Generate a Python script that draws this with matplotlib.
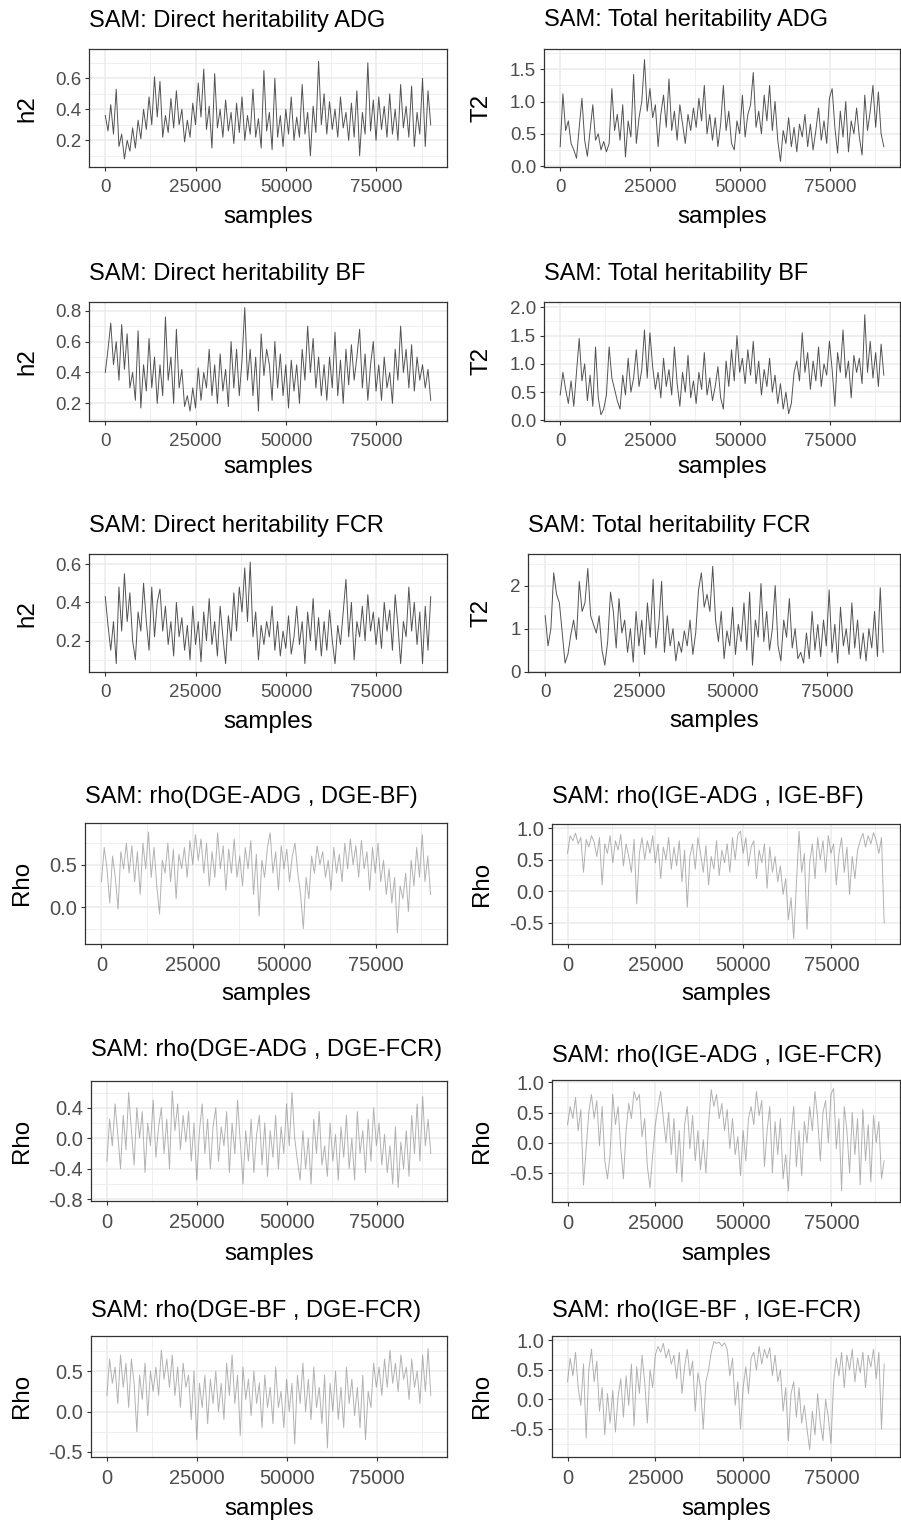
import numpy as np
import matplotlib.pyplot as plt

plt.rcParams['font.family'] = ['Liberation Sans', 'DejaVu Sans']

n_samples = 90000

titles = [
    "SAM: Direct heritability ADG", "SAM: Total heritability ADG",
    "SAM: Direct heritability BF", "SAM: Total heritability BF",
    "SAM: Direct heritability FCR", "SAM: Total heritability FCR",
    "SAM: rho(DGE-ADG , DGE-BF)", "SAM: rho(IGE-ADG , IGE-BF)",
    "SAM: rho(DGE-ADG , DGE-FCR)", "SAM: rho(IGE-ADG , IGE-FCR)",
    "SAM: rho(DGE-BF , DGE-FCR)", "SAM: rho(IGE-BF , IGE-FCR)",
]
ylabels = ["h2", "T2", "h2", "T2", "h2", "T2", "Rho", "Rho", "Rho", "Rho", "Rho", "Rho"]

# trace values (evenly spaced over the samples)
h2_adg = [0.36, 0.26, 0.43, 0.24, 0.53, 0.16, 0.24, 0.08, 0.20, 0.13,
          0.28, 0.15, 0.33, 0.21, 0.40, 0.27, 0.48, 0.30, 0.61, 0.35,
          0.58, 0.22, 0.36, 0.25, 0.47, 0.28, 0.52, 0.30, 0.40, 0.19,
          0.33, 0.22, 0.44, 0.30, 0.57, 0.35, 0.66, 0.27, 0.42, 0.15,
          0.63, 0.28, 0.40, 0.22, 0.46, 0.26, 0.38, 0.18, 0.44, 0.25,
          0.48, 0.20, 0.36, 0.24, 0.53, 0.22, 0.34, 0.15, 0.65, 0.26,
          0.38, 0.14, 0.60, 0.22, 0.36, 0.16, 0.40, 0.24, 0.48, 0.20,
          0.35, 0.22, 0.56, 0.24, 0.38, 0.10, 0.42, 0.25, 0.71, 0.30,
          0.50, 0.24, 0.45, 0.27, 0.40, 0.22, 0.48, 0.28, 0.38, 0.20,
          0.44, 0.22, 0.52, 0.10, 0.38, 0.24, 0.70, 0.26, 0.46, 0.20,
          0.48, 0.27, 0.42, 0.22, 0.50, 0.24, 0.40, 0.20, 0.56, 0.28,
          0.42, 0.22, 0.55, 0.16, 0.38, 0.24, 0.60, 0.16, 0.52, 0.30]
t2_adg = [0.30, 1.12, 0.55, 0.70, 0.35, 0.25, 0.12, 0.60, 1.05, 0.40,
          0.15, 0.55, 0.95, 0.40, 0.50, 0.25, 0.38, 0.22, 0.35, 1.20,
          0.55, 0.80, 0.40, 0.95, 0.14, 0.70, 0.45, 1.42, 0.35, 0.75,
          1.00, 1.65, 0.85, 1.20, 0.75, 0.95, 0.30, 0.80, 1.10, 0.60,
          1.35, 0.55, 0.85, 0.40, 0.95, 0.65, 0.35, 0.80, 0.55, 0.90,
          0.60, 1.05, 0.70, 1.25, 0.50, 0.80, 0.40, 0.75, 0.30, 0.65,
          1.25, 0.55, 0.85, 0.35, 0.25, 0.70, 0.50, 1.10, 0.45, 0.80,
          0.95, 1.45, 0.60, 0.85, 0.50, 1.10, 0.70, 1.25, 0.55, 1.00,
          0.40, 0.07, 0.55, 0.35, 0.75, 0.30, 0.60, 0.22, 0.65, 0.45,
          0.80, 0.30, 0.65, 0.25, 0.55, 0.90, 0.40, 0.70, 0.35, 1.05,
          1.20, 0.60, 0.20, 0.85, 0.45, 1.00, 0.22, 0.70, 0.50, 0.90,
          0.45, 0.17, 1.10, 0.55, 0.85, 1.25, 0.60, 1.15, 0.50, 0.30]
h2_bf = [0.40, 0.55, 0.72, 0.45, 0.60, 0.35, 0.71, 0.42, 0.65, 0.30,
         0.40, 0.22, 0.67, 0.17, 0.45, 0.28, 0.62, 0.30, 0.50, 0.20,
         0.45, 0.25, 0.76, 0.35, 0.50, 0.20, 0.68, 0.30, 0.42, 0.18,
         0.25, 0.15, 0.30, 0.17, 0.43, 0.22, 0.40, 0.30, 0.55, 0.25,
         0.45, 0.20, 0.52, 0.28, 0.42, 0.18, 0.60, 0.30, 0.55, 0.25,
         0.48, 0.82, 0.35, 0.55, 0.25, 0.50, 0.15, 0.65, 0.38, 0.55,
         0.45, 0.22, 0.60, 0.30, 0.52, 0.25, 0.45, 0.17, 0.48, 0.28,
         0.45, 0.20, 0.55, 0.35, 0.70, 0.40, 0.62, 0.30, 0.50, 0.25,
         0.45, 0.22, 0.50, 0.30, 0.66, 0.25, 0.48, 0.20, 0.55, 0.32,
         0.58, 0.35, 0.50, 0.68, 0.30, 0.52, 0.22, 0.45, 0.60, 0.28,
         0.45, 0.22, 0.50, 0.30, 0.40, 0.20, 0.55, 0.35, 0.70, 0.40,
         0.55, 0.30, 0.58, 0.28, 0.50, 0.35, 0.45, 0.30, 0.42, 0.22]
t2_bf = [0.45, 0.85, 0.55, 0.30, 0.70, 0.25, 0.85, 1.45, 0.70, 1.00,
         0.35, 0.80, 0.25, 1.30, 0.40, 0.10, 0.20, 0.45, 1.30, 0.75,
         0.55, 0.35, 0.20, 0.80, 0.45, 1.10, 0.50, 0.75, 1.25, 0.60,
         0.90, 1.60, 0.75, 1.55, 0.95, 0.55, 0.85, 0.40, 1.10, 0.60,
         0.90, 0.45, 1.30, 0.65, 0.25, 0.85, 0.50, 1.15, 0.40, 0.70,
         0.30, 0.85, 0.55, 1.20, 0.45, 0.75, 0.35, 0.60, 0.95, 0.40,
         0.20, 1.05, 0.60, 1.25, 0.70, 1.50, 0.85, 1.10, 0.65, 1.25,
         0.80, 1.40, 0.65, 1.05, 0.45, 0.90, 0.60, 1.10, 0.50, 0.80,
         0.30, 0.65, 0.20, 0.50, 0.12, 0.30, 0.85, 1.05, 0.70, 1.55,
         0.85, 1.20, 0.55, 1.05, 0.70, 1.30, 0.60, 1.00, 0.80, 1.40,
         0.90, 0.25, 1.20, 0.85, 1.60, 0.75, 1.05, 0.40, 1.15, 0.85,
         1.10, 0.65, 1.87, 0.85, 1.40, 0.75, 1.20, 0.60, 1.35, 0.80]
h2_fcr = [0.43, 0.28, 0.15, 0.30, 0.08, 0.48, 0.25, 0.55, 0.30, 0.45,
          0.20, 0.10, 0.35, 0.25, 0.50, 0.30, 0.15, 0.48, 0.22, 0.40,
          0.47, 0.25, 0.38, 0.18, 0.30, 0.12, 0.40, 0.22, 0.32, 0.15,
          0.28, 0.10, 0.38, 0.18, 0.30, 0.09, 0.35, 0.20, 0.42, 0.18,
          0.30, 0.12, 0.38, 0.22, 0.08, 0.33, 0.20, 0.45, 0.25, 0.48,
          0.35, 0.58, 0.30, 0.61, 0.22, 0.35, 0.10, 0.28, 0.18, 0.30,
          0.22, 0.38, 0.15, 0.30, 0.12, 0.25, 0.16, 0.33, 0.13, 0.22,
          0.38, 0.18, 0.30, 0.08, 0.35, 0.20, 0.42, 0.15, 0.32, 0.12,
          0.30, 0.15, 0.36, 0.20, 0.08, 0.28, 0.18, 0.35, 0.52, 0.22,
          0.40, 0.10, 0.30, 0.22, 0.38, 0.20, 0.44, 0.25, 0.35, 0.18,
          0.32, 0.16, 0.40, 0.25, 0.36, 0.15, 0.44, 0.28, 0.08, 0.30,
          0.22, 0.48, 0.25, 0.40, 0.18, 0.35, 0.08, 0.38, 0.15, 0.43]
t2_fcr = [1.30, 0.60, 1.00, 2.30, 1.80, 1.60, 0.90, 0.20, 0.40, 0.85,
          1.20, 0.75, 2.10, 1.40, 1.60, 2.40, 1.30, 1.10, 0.90, 1.30,
          0.50, 0.15, 0.70, 1.85, 1.40, 0.55, 1.70, 0.90, 1.20, 0.45,
          1.00, 0.22, 1.40, 0.60, 1.20, 0.40, 1.60, 0.80, 2.15, 0.55,
          1.10, 2.10, 0.45, 1.30, 0.60, 1.00, 0.25, 0.70, 0.45, 0.95,
          0.60, 1.20, 0.40, 0.90, 1.90, 2.30, 1.50, 1.80, 1.40, 2.45,
          1.20, 0.70, 1.40, 0.30, 0.95, 0.60, 1.50, 0.40, 1.10, 0.70,
          1.60, 0.50, 1.85, 0.15, 1.20, 0.80, 2.05, 0.70, 1.40, 0.50,
          1.00, 2.00, 0.60, 0.25, 1.20, 0.80, 1.70, 0.55, 1.00, 0.30,
          0.45, 0.20, 0.90, 0.30, 1.40, 0.50, 1.10, 0.35, 1.20, 0.60,
          1.90, 0.45, 1.10, 0.20, 1.50, 0.60, 1.00, 0.40, 1.60, 0.55,
          1.20, 0.30, 0.90, 0.25, 1.00, 0.55, 1.40, 0.35, 1.95, 0.45]
rho_dadg_dbf = [0.30, 0.70, 0.45, 0.05, 0.60, 0.35, -0.02, 0.65, 0.45, 0.75,
                0.40, 0.72, 0.30, 0.65, 0.15, 0.75, 0.45, 0.88, 0.35, 0.70,
                0.25, -0.08, 0.55, 0.40, 0.75, 0.30, 0.68, 0.10, 0.62, 0.45,
                0.70, 0.35, 0.78, 0.50, 0.85, 0.55, 0.80, 0.40, 0.75, 0.25,
                0.65, 0.35, 0.87, 0.45, 0.72, 0.20, 0.68, 0.40, 0.80, 0.35,
                0.60, 0.25, 0.70, 0.45, 0.78, 0.15, 0.62, -0.10, 0.55, 0.35,
                0.70, 0.87, 0.40, 0.65, 0.20, 0.72, 0.45, 0.68, 0.30, 0.60,
                0.75, 0.40, 0.15, -0.25, 0.35, 0.10, 0.60, 0.40, 0.72, 0.50,
                0.65, 0.35, 0.55, 0.20, 0.70, 0.40, 0.62, 0.30, 0.75, 0.45,
                0.80, 0.50, 0.72, 0.35, 0.78, 0.45, 0.65, 0.20, 0.70, 0.40,
                0.75, 0.30, 0.55, 0.15, 0.45, 0.05, 0.35, -0.30, 0.25, 0.10,
                0.40, -0.05, 0.55, 0.25, 0.70, 0.35, 0.85, 0.30, 0.60, 0.15]
rho_iadg_ibf = [0.60, 0.88, 0.80, 0.92, 0.75, 0.85, 0.30, 0.82, 0.70, 0.88,
                0.78, 0.55, 0.85, 0.10, 0.75, 0.60, 0.88, 0.45, 0.80, 0.65,
                0.90, 0.40, 0.75, 0.55, 0.30, 0.82, -0.20, 0.60, 0.85, 0.50,
                0.80, 0.60, 0.88, 0.45, 0.75, 0.20, 0.70, 0.50, 0.85, 0.35,
                0.70, 0.40, 0.80, 0.15, 0.65, -0.25, 0.55, 0.75, 0.35, 0.85,
                0.60, 0.30, 0.72, 0.10, 0.55, 0.35, 0.80, 0.25, 0.65, 0.45,
                0.75, 0.30, 0.85, 0.50, 0.90, 0.95, 0.60, 0.85, 0.40, 0.70,
                0.80, 0.20, 0.65, 0.45, 0.75, 0.05, 0.70, 0.30, 0.55, 0.15,
                0.40, -0.05, 0.20, -0.45, -0.10, -0.75, 0.10, 0.95, 0.30, 0.60,
                -0.60, 0.45, 0.75, 0.20, 0.85, 0.50, 0.80, 0.30, 0.88, 0.60,
                0.75, 0.10, 0.60, 0.85, 0.30, 0.70, -0.05, 0.55, 0.20, 0.65,
                0.80, 0.92, 0.70, 0.88, 0.75, 0.93, 0.80, 0.60, 0.85, -0.50]
rho_dadg_dfcr = [-0.30, 0.25, -0.10, 0.45, 0.05, -0.40, 0.30, -0.15, 0.60, 0.10,
                 -0.35, 0.40, 0.00, 0.35, -0.45, 0.20, -0.10, 0.50, -0.25, 0.15,
                 0.40, -0.20, 0.25, -0.40, 0.62, 0.10, 0.45, -0.15, 0.30, -0.05,
                 0.35, -0.30, 0.20, -0.55, 0.10, 0.45, -0.20, 0.25, -0.40, 0.15,
                 0.40, -0.30, 0.15, -0.10, 0.35, -0.45, 0.20, -0.20, 0.50, -0.05,
                 -0.60, 0.10, -0.30, 0.25, -0.45, 0.05, 0.30, -0.35, 0.20, -0.50,
                 0.10, -0.25, 0.30, -0.40, 0.15, -0.20, 0.45, -0.10, 0.60, 0.00,
                 -0.30, -0.55, 0.10, -0.40, 0.00, -0.60, 0.25, -0.20, 0.35, -0.35,
                 -0.10, -0.50, 0.20, -0.30, 0.05, -0.55, 0.15, -0.25, 0.30, -0.40,
                 0.00, -0.55, 0.35, -0.20, 0.10, -0.45, 0.25, -0.30, 0.40, -0.10,
                 0.20, -0.35, 0.05, -0.45, -0.10, -0.60, 0.15, -0.65, -0.05, -0.40,
                 0.10, -0.50, 0.30, -0.20, 0.45, -0.30, 0.55, -0.10, 0.25, -0.20]
rho_iadg_ifcr = [0.30, 0.60, 0.40, 0.75, 0.20, 0.55, -0.70, -0.10, 0.50, 0.80,
                 0.40, 0.70, -0.05, 0.60, -0.30, -0.60, -0.20, 0.80, 0.30, 0.60,
                 -0.10, -0.60, 0.20, 0.65, 0.40, 0.85, 0.70, 0.80, 0.10, 0.40,
                 -0.40, -0.75, -0.20, 0.30, 0.60, 0.85, 0.40, 0.00, 0.50, -0.20,
                 0.40, -0.50, 0.20, -0.65, 0.30, 0.60, -0.10, 0.45, -0.30, 0.20,
                 -0.45, 0.05, -0.50, 0.30, 0.88, 0.60, 0.80, 0.40, 0.65, 0.20,
                 0.55, -0.10, 0.40, -0.20, 0.10, -0.55, 0.20, -0.30, 0.40, 0.60,
                 0.30, 0.85, 0.45, 0.70, -0.40, 0.20, 0.60, -0.50, 0.35, -0.20,
                 0.40, -0.60, -0.20, -0.80, 0.10, 0.60, -0.40, 0.20, -0.55, 0.35,
                 0.00, 0.60, 0.20, 0.85, 0.40, -0.30, 0.50, 0.70, 0.00, 0.80,
                 0.90, -0.10, 0.40, -0.80, 0.60, 0.20, -0.50, 0.50, -0.20, 0.40,
                 -0.70, 0.55, -0.30, 0.30, -0.65, 0.45, 0.00, 0.35, -0.60, -0.30]
rho_dbf_dfcr = [0.20, 0.65, 0.35, 0.55, 0.10, 0.70, 0.30, 0.60, 0.05, 0.65,
                0.35, -0.25, 0.45, 0.15, 0.60, -0.05, 0.50, 0.25, 0.55, 0.20,
                0.76, 0.40, 0.65, 0.30, 0.70, 0.20, 0.55, 0.05, 0.60, 0.30,
                0.45, -0.10, 0.50, -0.35, 0.35, 0.05, 0.45, -0.15, 0.40, 0.10,
                0.50, 0.00, 0.35, -0.10, 0.60, 0.20, 0.70, 0.10, 0.45, -0.30,
                0.55, 0.15, 0.40, -0.05, 0.50, 0.10, 0.35, -0.20, 0.45, 0.05,
                0.30, -0.15, 0.55, 0.05, 0.25, -0.20, 0.40, 0.00, 0.35, -0.40,
                0.45, 0.10, 0.60, 0.00, 0.40, -0.10, 0.55, 0.05, 0.30, -0.15,
                0.45, -0.45, 0.35, 0.00, 0.50, -0.10, 0.30, -0.20, 0.55, 0.10,
                0.40, -0.05, 0.30, -0.20, 0.45, -0.35, 0.25, 0.05, 0.60, 0.30,
                0.55, 0.20, 0.65, 0.30, 0.76, 0.35, 0.60, 0.25, 0.70, 0.40,
                0.55, 0.15, 0.65, 0.30, 0.50, 0.10, 0.70, 0.25, 0.78, 0.20]
rho_ibf_ifcr = [0.30, 0.70, 0.40, 0.80, 0.20, -0.10, 0.60, -0.65, 0.50, 0.85,
                0.30, 0.65, -0.20, 0.20, -0.60, 0.10, -0.40, 0.15, -0.55, 0.05,
                0.35, -0.30, 0.40, -0.10, 0.60, -0.45, 0.55, 0.10, 0.75, 0.30,
                -0.40, 0.50, 0.20, 0.75, 0.90, 0.80, 0.95, 0.70, 0.85, 0.60,
                0.75, 0.35, 0.80, 0.10, 0.55, 0.85, 0.40, 0.65, -0.20, 0.45,
                0.20, -0.50, 0.30, 0.50, 0.80, 0.98, 0.95, 0.97, 0.90, 0.96,
                0.85, 0.40, 0.70, -0.10, 0.30, -0.50, 0.20, 0.55, 0.10, 0.70,
                0.80, 0.50, 0.90, 0.60, 0.85, 0.70, 0.88, 0.40, 0.75, 0.30,
                0.50, -0.20, 0.20, -0.70, 0.10, 0.30, -0.30, 0.20, -0.40, -0.10,
                -0.50, -0.85, -0.20, -0.60, 0.10, -0.40, -0.70, 0.00, -0.30, -0.75,
                0.30, 0.70, 0.40, 0.80, 0.20, 0.75, 0.50, 0.85, 0.30, 0.70,
                0.45, 0.80, 0.20, 0.75, 0.55, 0.85, 0.35, 0.80, -0.50, 0.60]

traces = [h2_adg, t2_adg, h2_bf, t2_bf, h2_fcr, t2_fcr,
          rho_dadg_dbf, rho_iadg_ibf, rho_dadg_dfcr, rho_iadg_ifcr,
          rho_dbf_dfcr, rho_ibf_ifcr]

x_ticks = [0, 25000, 50000, 75000]
x_ticklabels = ["0", "25000", "50000", "75000"]
y_ticks = [[0.2, 0.4, 0.6], [0.0, 0.5, 1.0, 1.5],
           [0.2, 0.4, 0.6, 0.8], [0.0, 0.5, 1.0, 1.5, 2.0],
           [0.2, 0.4, 0.6], [0, 1, 2],
           [0.0, 0.5], [-0.5, 0.0, 0.5, 1.0],
           [-0.8, -0.4, 0.0, 0.4], [-0.5, 0.0, 0.5, 1.0],
           [-0.5, 0.0, 0.5], [-0.5, 0.0, 0.5, 1.0]]
y_ticklabels = [["0.2", "0.4", "0.6"], ["0.0", "0.5", "1.0", "1.5"],
                ["0.2", "0.4", "0.6", "0.8"], ["0.0", "0.5", "1.0", "1.5", "2.0"],
                ["0.2", "0.4", "0.6"], ["0", "1", "2"],
                ["0.0", "0.5"], ["-0.5", "0.0", "0.5", "1.0"],
                ["-0.8", "-0.4", "0.0", "0.4"], ["-0.5", "0.0", "0.5", "1.0"],
                ["-0.5", "0.0", "0.5"], ["-0.5", "0.0", "0.5", "1.0"]]

# layout (pixels): panel box left, top, right, bottom
W, H = 901, 1522
boxes = [(89, 49.3, 447, 167.3), (544, 49.3, 900, 167.3),
         (89, 301.7, 447, 420.7), (544, 301.7, 900, 420.7),
         (89, 554.3, 447, 672.3), (528.3, 554.3, 900, 672.3),
         (85, 822.7, 447, 944), (551.7, 824.3, 900, 944.3),
         (90.7, 1080.7, 447, 1200.7), (551.7, 1080, 900, 1201.7),
         (90.7, 1335.7, 447, 1456.7), (551.7, 1335.7, 900, 1456.7)]
ylims = [(0.026, 0.787), (-0.02, 1.81), (0.088, 0.858), (-0.005, 2.1),
         (0.035, 0.651), (-0.015, 2.73), (-0.43, 0.99), (-0.84, 1.06),
         (-0.82, 0.755), (-0.98, 1.04), (-0.56, 0.94), (-0.97, 1.08)]
title_y = [26.7, 26, 280, 280, 531.7, 531.7, 803.3, 802.7, 1056, 1061.7, 1316.7, 1316.7]
ylab_x = [27, 481.7, 27, 481.7, 27, 481.7, 21.7, 481.7, 21.7, 481.7, 21.7, 481.7]
xlab_y = [223, 222.7, 472.7, 472.7, 727.7, 726.7, 1000, 1000, 1260, 1260, 1515, 1515]

fig = plt.figure(figsize=(W / 100, H / 100), dpi=100)

for i in range(12):
    l, t, r, b = boxes[i]
    ax = fig.add_axes([l / W, 1 - b / H, (r - l) / W, (b - t) / H])
    vals = np.array(traces[i])
    x = np.linspace(1, n_samples, len(vals))
    if i < 6:
        ax.plot(x, vals, color="#1a1a1a", lw=0.7, alpha=0.75)
    else:
        ax.plot(x, vals, color="#666666", lw=0.7, alpha=0.5)

    ax.set_xlim(-4500, 94500)
    ax.set_xticks(x_ticks)
    ax.set_xticklabels(x_ticklabels)
    ax.set_xticks([12500, 37500, 62500, 87500], minor=True)
    yt = y_ticks[i]
    step = yt[1] - yt[0]
    ax.set_yticks(yt)
    ax.set_yticklabels(y_ticklabels[i])
    ax.set_yticks(np.arange(yt[0] - step / 2, ylims[i][1], step), minor=True)
    ax.set_ylim(*ylims[i])

    ax.grid(which="major", color="#EBEBEB", lw=1.1)
    ax.grid(which="minor", color="#EBEBEB", lw=0.55)
    ax.set_axisbelow(True)
    for s in ax.spines.values():
        s.set_color("#333333")
        s.set_linewidth(0.9)

    fs = 13.5 if i < 6 else 14.5
    ax.tick_params(which="major", length=3.1, width=0.8, color="#333333",
                   labelcolor="#4D4D4D", labelsize=fs)
    ax.tick_params(axis="x", which="major", pad=5.5)
    ax.tick_params(axis="y", which="major", pad=2.5)
    ax.tick_params(which="minor", length=0)

    fig.text(l / W, 1 - title_y[i] / H, titles[i], fontsize=17, color="black",
             ha="left", va="baseline")
    fig.text(ylab_x[i] / W, 1 - (t + b) / 2 / H, ylabels[i], fontsize=17.4,
             rotation=90, ha="center", va="center")
    fig.text((l + r) / 2 / W, 1 - xlab_y[i] / H, "samples", fontsize=17.4,
             ha="center", va="baseline")

fig.savefig("out.png", dpi=100)
